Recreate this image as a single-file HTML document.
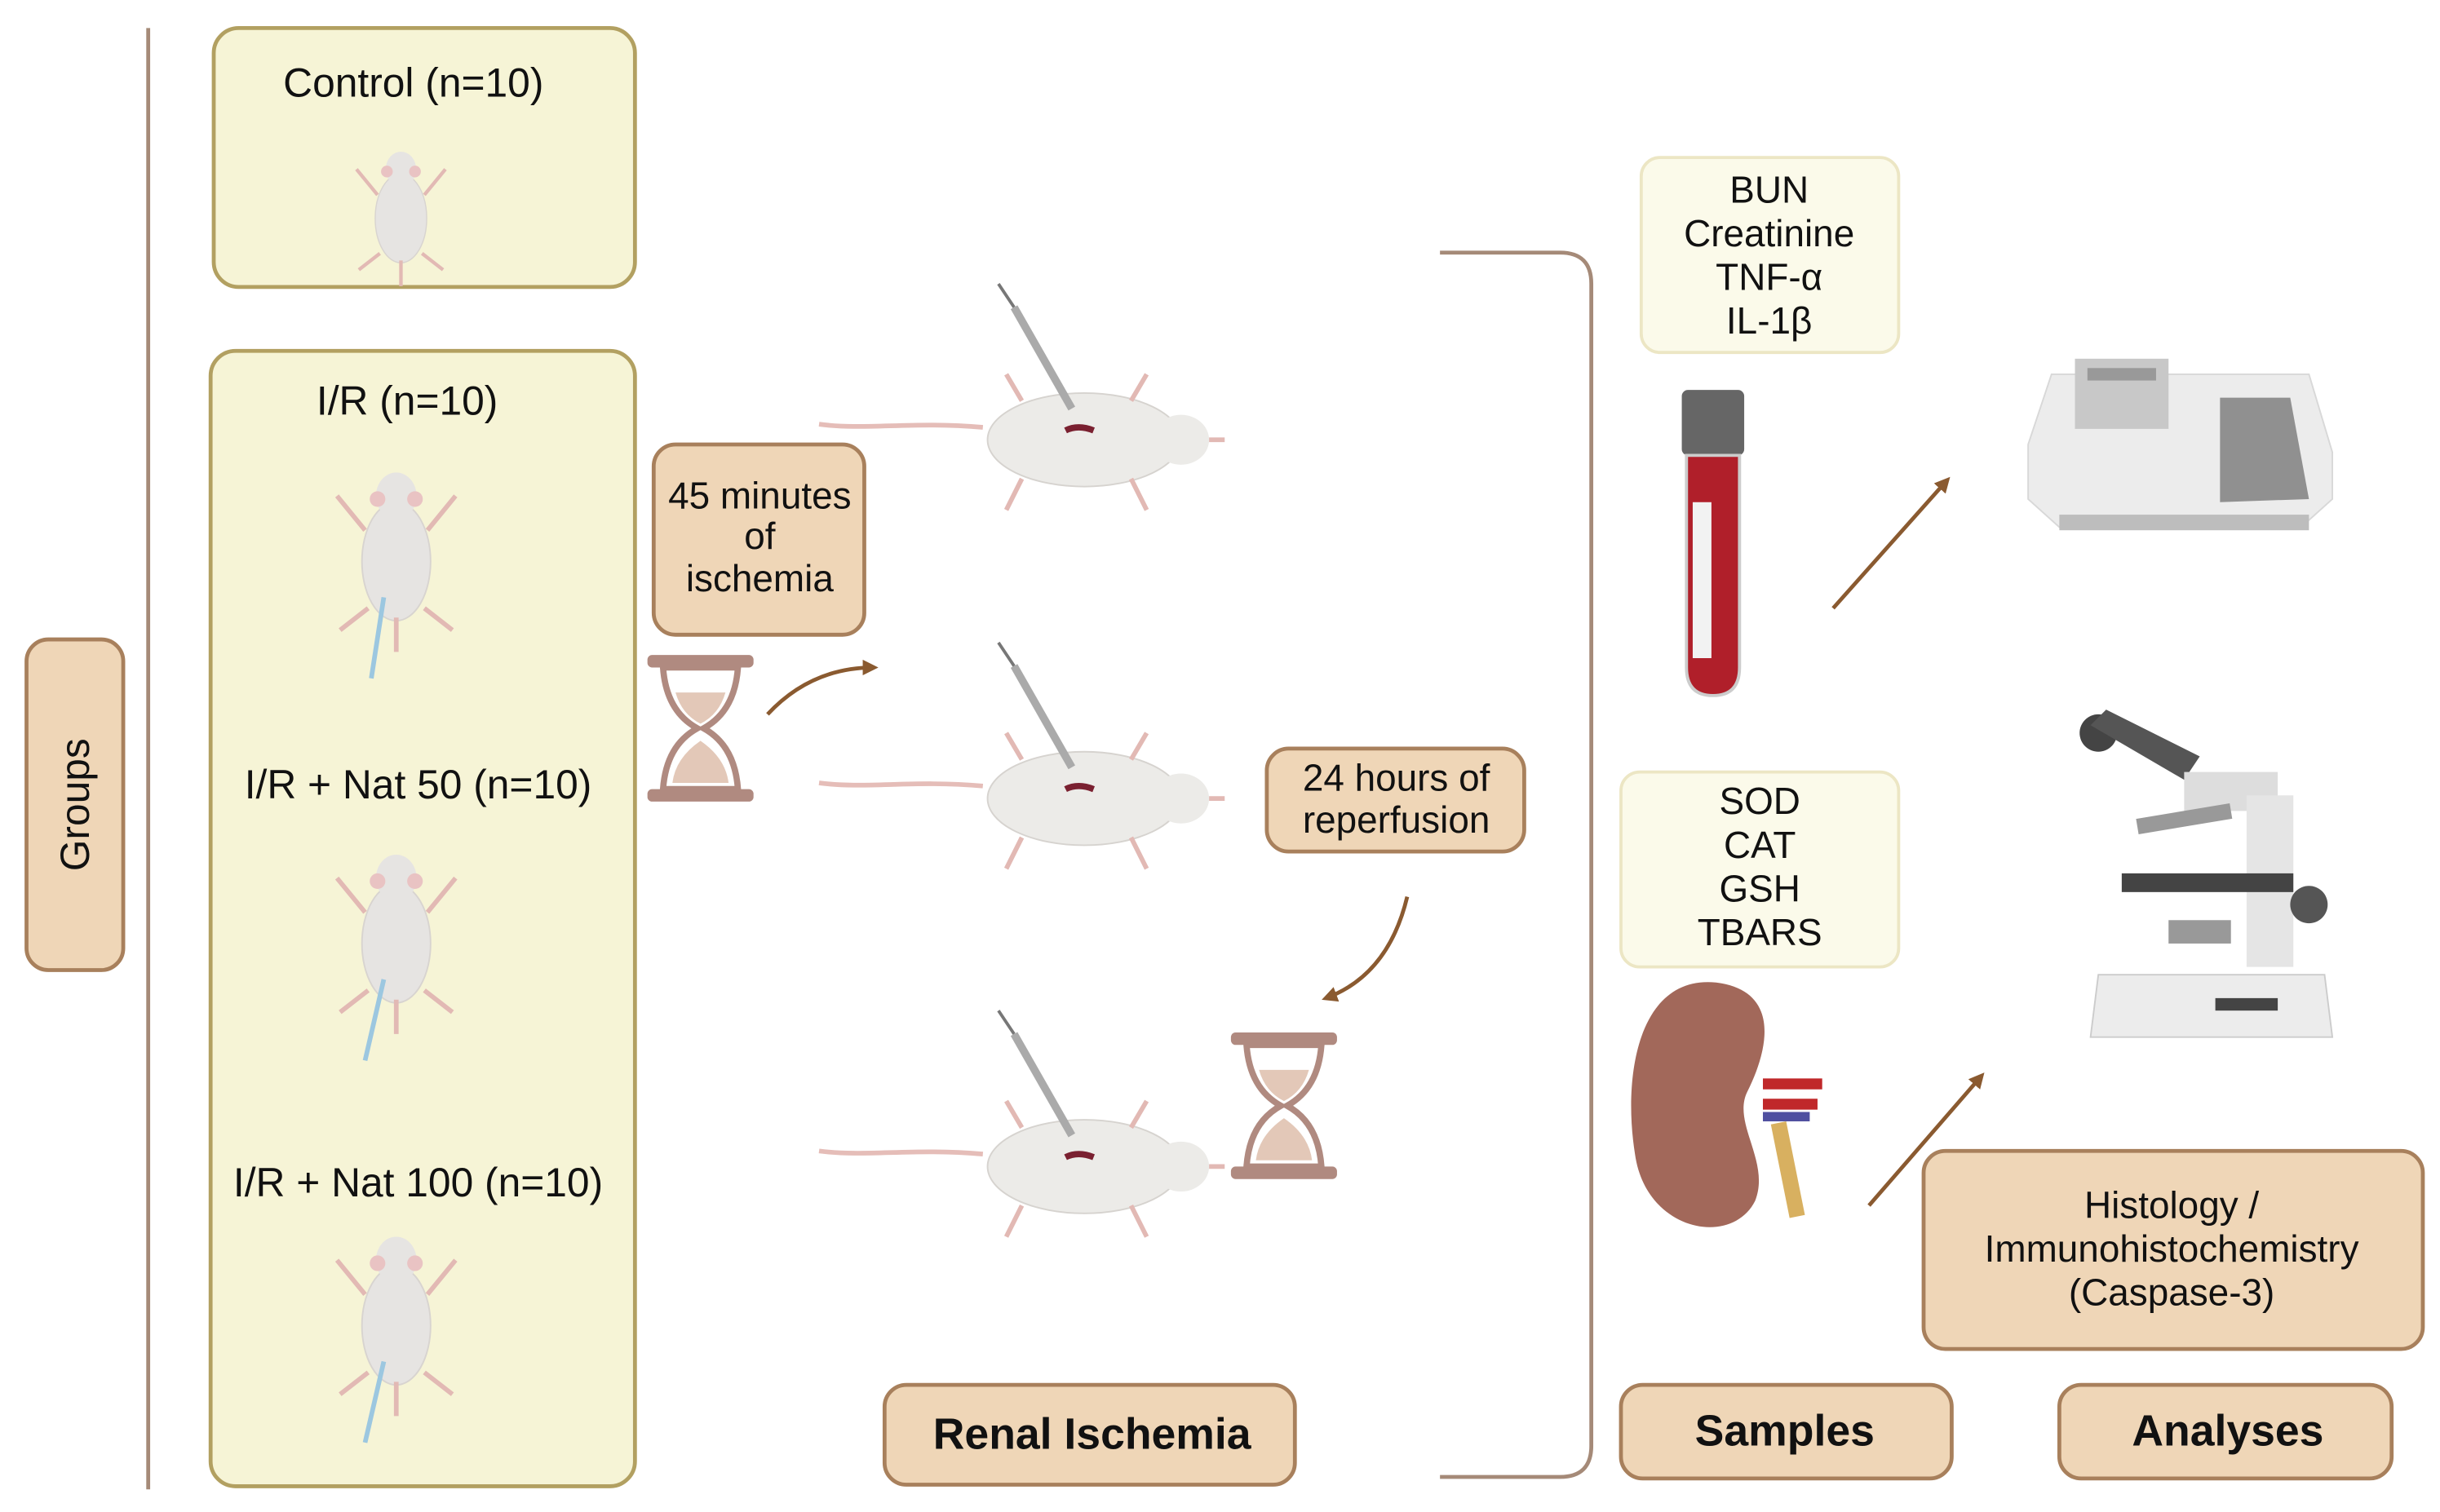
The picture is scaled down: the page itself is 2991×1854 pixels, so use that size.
<!DOCTYPE html>
<html><head><meta charset="utf-8"><style>
html,body{margin:0;padding:0;background:#fff;}
svg{display:block;}
text{font-family:"Liberation Sans",Arial,sans-serif;fill:#111;}
</style></head><body>
<svg width="2991" height="1854" viewBox="0 0 1564 969.5" preserveAspectRatio="none" xmlns="http://www.w3.org/2000/svg">
<defs>
<marker id="ah" markerWidth="10" markerHeight="10" refX="7" refY="5" orient="auto" markerUnits="userSpaceOnUse"><path d="M0,0 L10,5 L0,10 z" fill="#8a5a30"/></marker>
<g id="ratV">
 <ellipse cx="0" cy="0" rx="22" ry="38" fill="#e6e4e2" stroke="#d8d4d0"/>
 <ellipse cx="0" cy="-42" rx="13" ry="15" fill="#e6e4e2"/>
 <circle cx="-12" cy="-40" r="5" fill="#e9c3c3"/><circle cx="12" cy="-40" r="5" fill="#e9c3c3"/>
 <path d="M-20,-20 L-38,-42 M20,-20 L38,-42 M-18,30 L-36,44 M18,30 L36,44 M0,36 L0,58" stroke="#e2b9b4" stroke-width="3" fill="none"/>
</g>
<g id="ratH">
 <path d="M-65,-8 C-110,-12 -140,-6 -170,-10" stroke="#e5bdb8" stroke-width="3" fill="none"/>
 <ellipse cx="0" cy="0" rx="62" ry="30" fill="#ecebe8" stroke="#d6d3cf"/>
 <ellipse cx="62" cy="0" rx="18" ry="16" fill="#ecebe8"/>
 <path d="M-40,25 L-50,45 M30,25 L40,45 M-40,-25 L-50,-42 M30,-25 L40,-42 M80,0 L90,0" stroke="#e2b9b4" stroke-width="3" fill="none"/>
 <path d="M-12,-6 Q-4,-10 6,-6" stroke="#7a2030" stroke-width="4" fill="none"/>
 <path d="M-8,-20 L-45,-85" stroke="#aaa" stroke-width="5"/>
 <path d="M-45,-85 L-55,-100" stroke="#777" stroke-width="2"/>
</g>
<g id="hg">
 <rect x="0" y="0" width="68" height="8" rx="3" fill="#b08a80"/>
 <rect x="0" y="86" width="68" height="8" rx="3" fill="#b08a80"/>
 <path d="M10,8 L58,8 Q56,36 36,47 Q56,58 58,86 L10,86 Q12,58 32,47 Q12,36 10,8 z" fill="#fff" stroke="#b08a80" stroke-width="4"/>
 <path d="M18,24 L50,24 Q46,38 34,44 Q22,38 18,24 z" fill="#e3c8b8"/>
 <path d="M34,55 Q50,66 52,82 L16,82 Q18,66 34,55 z" fill="#e3c8b8"/>
</g>
</defs>

<line x1="95" y1="18" x2="95" y2="955" stroke="#a58a78" stroke-width="2.5"/>
<rect x="17" y="410" width="62" height="212" rx="14" fill="#efd6b7" stroke="#a8805c" stroke-width="2.5"/>
<text transform="translate(57,516) rotate(-90)" text-anchor="middle" font-size="26">Groups</text>

<rect x="137" y="18" width="270" height="166" rx="16" fill="#f6f4d6" stroke="#b2a061" stroke-width="2.5"/>
<text x="265" y="62" text-anchor="middle" font-size="26">Control (n=10)</text>
<use href="#ratV" transform="translate(257,140) scale(0.75)"/>

<rect x="135" y="225" width="272" height="728" rx="16" fill="#f6f4d6" stroke="#b2a061" stroke-width="2.5"/>
<text x="261" y="266" text-anchor="middle" font-size="26">I/R (n=10)</text>
<text x="268" y="512" text-anchor="middle" font-size="26">I/R + Nat 50 (n=10)</text>
<text x="268" y="767" text-anchor="middle" font-size="26">I/R + Nat 100 (n=10)</text>
<use href="#ratV" transform="translate(254,360)"/>
<use href="#ratV" transform="translate(254,605)"/>
<use href="#ratV" transform="translate(254,850)"/>
<g stroke="#9cc7e0" stroke-width="3"><line x1="246" y1="383" x2="238" y2="435"/><line x1="246" y1="628" x2="234" y2="680"/><line x1="246" y1="873" x2="234" y2="925"/></g>

<rect x="419" y="285" width="135" height="122" rx="14" fill="#efd6b7" stroke="#a8805c" stroke-width="2.5"/>
<text x="487" y="326" text-anchor="middle" font-size="24">45 minutes</text>
<text x="487" y="352" text-anchor="middle" font-size="24">of</text>
<text x="487" y="379" text-anchor="middle" font-size="24">ischemia</text>
<use href="#hg" transform="translate(415,420)"/>
<path d="M492,458 Q520,428 560,428" stroke="#8a5a30" stroke-width="2.5" fill="none" marker-end="url(#ah)"/>

<use href="#ratH" transform="translate(695,282)"/>
<use href="#ratH" transform="translate(695,512)"/>
<use href="#ratH" transform="translate(695,748)"/>

<rect x="812" y="480" width="165" height="66" rx="14" fill="#efd6b7" stroke="#a8805c" stroke-width="2.5"/>
<text x="895" y="507" text-anchor="middle" font-size="24">24 hours of</text>
<text x="895" y="534" text-anchor="middle" font-size="24">reperfusion</text>
<path d="M902,575 Q890,625 850,640" stroke="#8a5a30" stroke-width="2.5" fill="none" marker-end="url(#ah)"/>
<use href="#hg" transform="translate(789,662)"/>

<rect x="567" y="888" width="263" height="64" rx="14" fill="#efd6b7" stroke="#a8805c" stroke-width="2.5"/>
<text x="700" y="929" text-anchor="middle" font-size="28" font-weight="bold">Renal Ischemia</text>

<path d="M923,162 L1000,162 Q1020,162 1020,182 L1020,927 Q1020,947 1000,947 L923,947" stroke="#a58a78" stroke-width="2.5" fill="none"/>

<rect x="1052" y="101" width="165" height="125" rx="12" fill="#fbfaea" stroke="#ece6c4" stroke-width="2"/>
<g font-size="24" text-anchor="middle"><text x="1134" y="130">BUN</text><text x="1134" y="158">Creatinine</text><text x="1134" y="186">TNF-α</text><text x="1134" y="214">IL-1β</text></g>
<rect x="1078" y="250" width="40" height="42" rx="4" fill="#666"/>
<path d="M1081,292 L1115,292 L1115,428 Q1115,446 1098,446 Q1081,446 1081,428 z" fill="#b01f2a" stroke="#ccc" stroke-width="2"/>
<rect x="1085" y="322" width="12" height="100" fill="#f2f2f2"/>

<rect x="1039" y="495" width="178" height="125" rx="12" fill="#fbfaea" stroke="#ece6c4" stroke-width="2"/>
<g font-size="24" text-anchor="middle"><text x="1128" y="522">SOD</text><text x="1128" y="550">CAT</text><text x="1128" y="578">GSH</text><text x="1128" y="606">TBARS</text></g>
<path d="M1100,630 C1050,625 1040,690 1048,740 C1055,790 1110,800 1125,770 C1135,745 1110,720 1120,700 C1135,670 1140,635 1100,630 z" fill="#a2685a"/>
<path d="M1130,695 L1168,695 M1130,708 L1165,708" stroke="#c0282a" stroke-width="7"/>
<path d="M1130,716 L1160,716" stroke="#5050a0" stroke-width="6"/>
<path d="M1140,720 L1152,780" stroke="#d8b060" stroke-width="10"/>

<rect x="1039" y="888" width="212" height="60" rx="14" fill="#efd6b7" stroke="#a8805c" stroke-width="2.5"/>
<text x="1144" y="927" text-anchor="middle" font-size="28" font-weight="bold">Samples</text>
<rect x="1320" y="888" width="213" height="60" rx="14" fill="#efd6b7" stroke="#a8805c" stroke-width="2.5"/>
<text x="1428" y="927" text-anchor="middle" font-size="28" font-weight="bold">Analyses</text>
<rect x="1233" y="738" width="320" height="127" rx="14" fill="#efd6b7" stroke="#a8805c" stroke-width="2.5"/>
<g font-size="24" text-anchor="middle"><text x="1392" y="781">Histology /</text><text x="1392" y="809">Immunohistochemistry</text><text x="1392" y="837">(Caspase-3)</text></g>

<line x1="1175" y1="390" x2="1248" y2="308" stroke="#8a5a30" stroke-width="2.5" marker-end="url(#ah)"/>
<line x1="1198" y1="773" x2="1270" y2="690" stroke="#8a5a30" stroke-width="2.5" marker-end="url(#ah)"/>

<path d="M1315,240 L1480,240 L1495,290 L1495,320 L1475,338 L1320,338 L1300,320 L1300,285 z" fill="#ececec" stroke="#d8d8d8"/>
<rect x="1330" y="230" width="60" height="45" fill="#c8c8c8"/>
<rect x="1338" y="236" width="44" height="8" fill="#999"/>
<path d="M1423,255 L1468,255 L1480,320 L1423,322 z" fill="#909090"/>
<rect x="1320" y="330" width="160" height="10" fill="#bdbdbd"/>

<g>
<circle cx="1345" cy="470" r="12" fill="#444"/>
<path d="M1340,465 L1400,500 L1410,485 L1350,455 z" fill="#555"/>
<rect x="1400" y="495" width="60" height="25" fill="#ddd"/>
<rect x="1440" y="510" width="30" height="110" fill="#e5e5e5"/>
<path d="M1370,530 L1430,520" stroke="#999" stroke-width="10"/>
<rect x="1360" y="560" width="110" height="12" fill="#444"/>
<circle cx="1480" cy="580" r="12" fill="#555"/>
<rect x="1390" y="590" width="40" height="15" fill="#999"/>
<path d="M1345,625 L1490,625 L1495,665 L1340,665 z" fill="#ececec" stroke="#ccc"/>
<rect x="1420" y="640" width="40" height="8" fill="#444"/>
</g>
</svg>
</body></html>
